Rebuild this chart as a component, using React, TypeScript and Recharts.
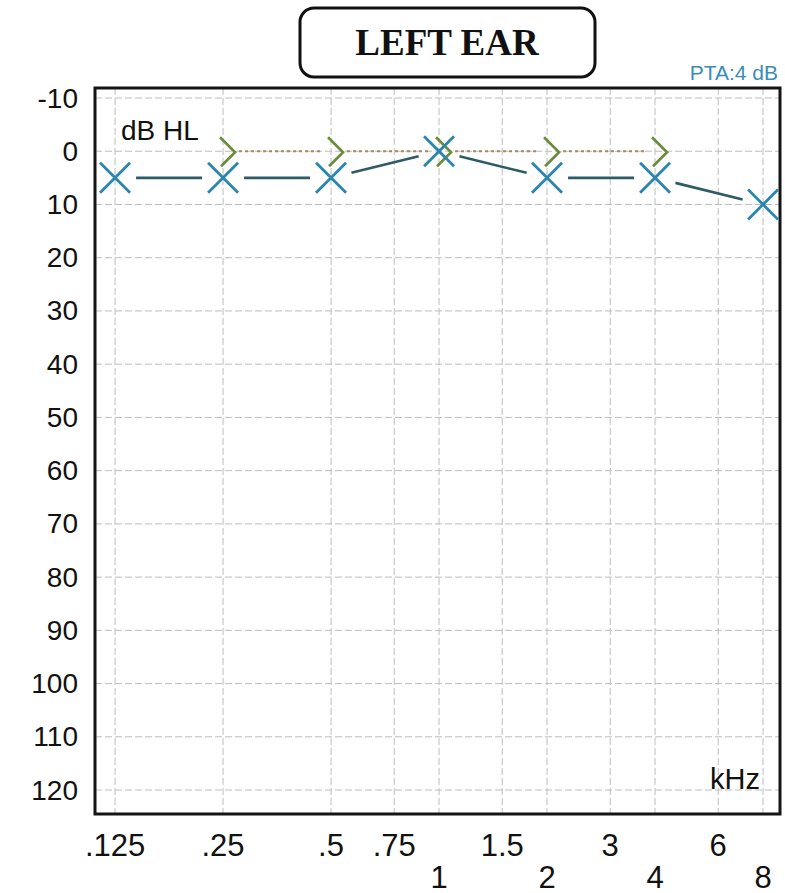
import React from "react";
import {
  LineChart,
  Line,
  XAxis,
  YAxis,
  CartesianGrid,
  ReferenceArea,
} from "recharts";

// audiogram, left ear (kHz / dB HL)
const AIR_FREQS = [0.125, 0.25, 0.5, 1, 2, 4, 8];
const AIR_DB = [5, 5, 5, 0, 5, 5, 10];
const BONE_FREQS = [0.25, 0.5, 1, 2, 4];
const BONE_DB = [0, 0, 0, 0, 0];

const FREQ_TICKS = [0.125, 0.25, 0.5, 0.75, 1, 1.5, 2, 3, 4, 6, 8];
const FREQ_LABELS = [".125", ".25", ".5", ".75", "1", "1.5", "2", "3", "4", "6", "8"];
const LOWER_ROW = [1, 2, 4, 8];
const DB_TICKS = [-10, 0, 10, 20, 30, 40, 50, 60, 70, 80, 90, 100, 110, 120];
const PTA_DB = 4;

const airData = AIR_FREQS.map((khz, i) => ({ khz, db: AIR_DB[i] }));
const boneData = BONE_FREQS.map((khz, i) => ({ khz, db: BONE_DB[i] }));

const W = 785;
const H = 893;
const X_DOMAIN = [0.1099, 8.92];
const Y_DOMAIN = [-11.88, 124.5];

const AIR_COLOR = "#2a86ad";
const AIR_LINK = "#2e5c66";
const BONE_COLOR = "#6a8b3a";
const BONE_LINK = "#a58a5e";
const SANS = "'Liberation Sans', Arial, Helvetica, sans-serif";

type Pt = { x: number; y: number };

// segment between two marks, pulled back so it stops short of the symbols
function trimmed(a: Pt, b: Pt, g1: number, g2: number) {
  const dx = b.x - a.x;
  const dy = b.y - a.y;
  const len = Math.hypot(dx, dy) || 1;
  const ux = dx / len;
  const uy = dy / len;
  return {
    x1: a.x + ux * g1,
    y1: a.y + uy * g1,
    x2: b.x - ux * g2,
    y2: b.y - uy * g2,
  };
}

function AirMark(props: any) {
  const { cx, cy, index, points } = props;
  if (cx == null || cy == null) return null;
  const next: Pt | undefined = points && points[index + 1];
  const s = 15;
  return (
    <g>
      {next && (
        <line
          {...trimmed({ x: cx, y: cy }, next, 21, 21)}
          stroke={AIR_LINK}
          strokeWidth={2.6}
        />
      )}
      <path
        d={`M${cx - s},${cy - s} L${cx + s},${cy + s} M${cx - s},${cy + s} L${cx + s},${cy - s}`}
        stroke={AIR_COLOR}
        strokeWidth={2.8}
        fill="none"
      />
    </g>
  );
}

function BoneMark(props: any) {
  const { cx, cy, index, points } = props;
  if (cx == null || cy == null) return null;
  const next: Pt | undefined = points && points[index + 1];
  return (
    <g>
      {next && (
        <line
          {...trimmed({ x: cx, y: cy }, next, 16, 8)}
          stroke={BONE_LINK}
          strokeWidth={2}
          strokeDasharray="3 3"
        />
      )}
      <path
        d={`M${cx - 3},${cy - 14} L${cx + 12},${cy + 1} L${cx - 2},${cy + 15}`}
        stroke={BONE_COLOR}
        strokeWidth={2.6}
        fill="none"
      />
    </g>
  );
}

function FreqTick(props: any) {
  const { x, payload } = props;
  const i = FREQ_TICKS.indexOf(payload.value);
  const low = LOWER_ROW.includes(payload.value);
  return (
    <text
      x={x}
      y={low ? 877 : 845}
      textAnchor="middle"
      dominantBaseline="central"
      fontFamily={SANS}
      fontSize={31}
      fill="#111"
    >
      {FREQ_LABELS[i]}
    </text>
  );
}

function DbTick(props: any) {
  const { y, payload } = props;
  return (
    <text
      x={78}
      y={y}
      textAnchor="end"
      dominantBaseline="central"
      fontFamily={SANS}
      fontSize={28}
      fill="#111"
    >
      {payload.value}
    </text>
  );
}

export default function App() {
  return (
    <div style={{ position: "absolute", left: 0, top: 0, background: "#fff" }}>
      <LineChart
        width={W}
        height={H}
        margin={{ top: 88, right: 5, bottom: 0, left: 0 }}
      >
        <CartesianGrid
          stroke="#bdbdbd"
          strokeDasharray="7 3"
          strokeWidth={1}
          horizontalValues={DB_TICKS}
          verticalValues={FREQ_TICKS}
        />
        <XAxis
          type="number"
          dataKey="khz"
          scale="log"
          domain={X_DOMAIN}
          allowDataOverflow
          ticks={FREQ_TICKS}
          interval={0}
          height={79}
          axisLine={false}
          tickLine={false}
          tick={<FreqTick />}
        />
        <YAxis
          type="number"
          dataKey="db"
          reversed
          domain={Y_DOMAIN}
          allowDataOverflow
          ticks={DB_TICKS}
          interval={0}
          width={95}
          axisLine={false}
          tickLine={false}
          tick={<DbTick />}
        />
        <ReferenceArea
          x1={X_DOMAIN[0]}
          x2={X_DOMAIN[1]}
          y1={Y_DOMAIN[0]}
          y2={Y_DOMAIN[1]}
          fill="none"
          stroke="#151515"
          strokeWidth={3}
          ifOverflow="visible"
        />
        <Line
          data={boneData}
          dataKey="db"
          stroke="none"
          isAnimationActive={false}
          activeDot={false}
          dot={(p: any) => <BoneMark key={`b${p.index}`} {...p} />}
        />
        <Line
          data={airData}
          dataKey="db"
          stroke="none"
          isAnimationActive={false}
          activeDot={false}
          dot={(p: any) => <AirMark key={`a${p.index}`} {...p} />}
        />

        <rect
          x={300}
          y={8}
          width={295}
          height={69}
          rx={14}
          fill="#fff"
          stroke="#111"
          strokeWidth={3}
        />
        <text
          x={447}
          y={55}
          textAnchor="middle"
          fontFamily="'Liberation Serif', 'Times New Roman', serif"
          fontWeight="bold"
          fontSize={37}
          fill="#111"
        >
          LEFT EAR
        </text>
        <text
          x={778}
          y={80}
          textAnchor="end"
          fontFamily={SANS}
          fontSize={21}
          fill="#3a8db6"
        >
          {`PTA:${PTA_DB} dB`}
        </text>
        <text x={121} y={140} fontFamily={SANS} fontSize={28} fill="#111">
          dB HL
        </text>
        <text
          x={760}
          y={789}
          textAnchor="end"
          fontFamily={SANS}
          fontSize={29}
          fill="#111"
        >
          kHz
        </text>
      </LineChart>
    </div>
  );
}
